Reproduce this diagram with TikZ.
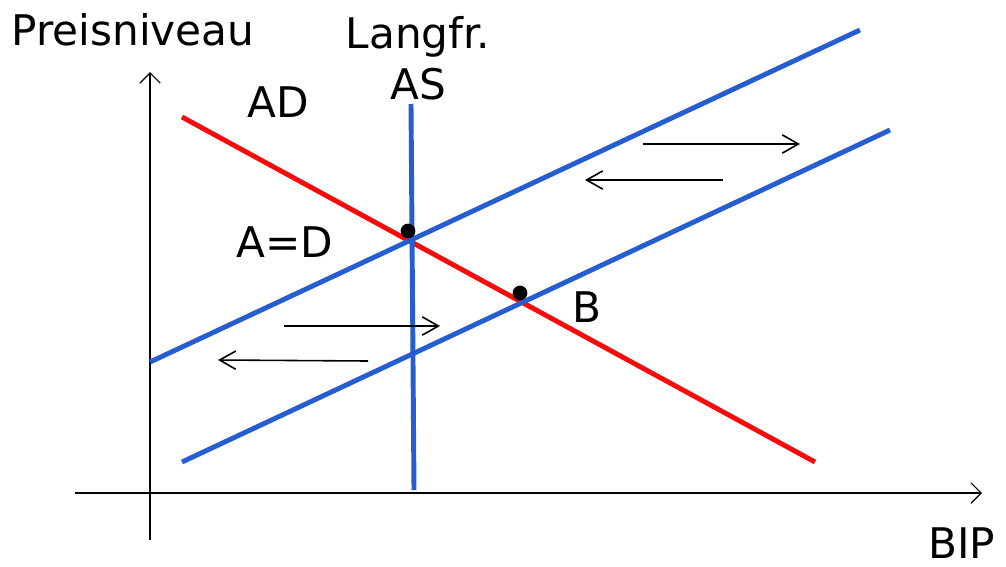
\documentclass[tikz,border=0pt]{standalone}
\usepackage{fontspec}
\setmainfont{DejaVu Sans}
\usetikzlibrary{arrows.meta}
\definecolor{asblue}{RGB}{38,94,210}
\definecolor{adred}{RGB}{250,10,10}
\tikzset{
  axis/.style={line width=0.35pt, draw=black},
  axisarrow/.style={axis, -{Straight Barb[length=2.9pt,width=5.8pt,line width=0.35pt]}},
  asline/.style={draw=asblue, line width=1.4pt},
  adline/.style={draw=adred, line width=1.4pt},
  shiftarrow/.style={line width=0.45pt, draw=black, -{Straight Barb[length=4.6pt,width=5.2pt,line width=0.45pt]}},
  lbl/.style={font=\fontsize{12}{14.4}\selectfont, inner sep=0pt},
  eqdot/.style={circle, fill=black, inner sep=0pt, minimum size=4.2pt}
}
\begin{document}
\begin{tikzpicture}[x=0.01cm,y=-0.01cm]
\useasboundingbox (0,0) rectangle (1006,566);
% axes
\coordinate (yb) at (150,540);
\coordinate (yt) at (150,72);
\coordinate (xl) at (75,493);
\coordinate (xr) at (982,493);
\draw[axisarrow] (yb) -- (yt);
\draw[axisarrow] (xl) -- (xr);
% curves
\coordinate (ad1) at (182,117);
\coordinate (ad2) at (815,462);
\coordinate (las1) at (411,104);
\coordinate (las2) at (414,490);
\coordinate (asa1) at (150,362);
\coordinate (asa2) at (860,30);
\coordinate (asb1) at (182,462);
\coordinate (asb2) at (890,130);
\draw[adline] (ad1) -- (ad2);
\draw[asline] (asa1) -- (asa2);
\draw[asline] (asb1) -- (asb2);
\draw[asline] (las1) -- (las2);
% equilibrium points
\node[eqdot] (dA) at (408,231) {};
\node[eqdot] (dB) at (520,293) {};
% shift arrows
\coordinate (r1s) at (643,144); \coordinate (r1e) at (800,144);
\coordinate (l1s) at (723,180); \coordinate (l1e) at (585,180);
\coordinate (r2s) at (284,326); \coordinate (r2e) at (440,326);
\coordinate (l2s) at (368,361); \coordinate (l2e) at (218,360);
\draw[shiftarrow] (r1s) -- (r1e);
\draw[shiftarrow] (l1s) -- (l1e);
\draw[shiftarrow] (r2s) -- (r2e);
\draw[shiftarrow] (l2s) -- (l2e);
% labels
\node[lbl] (tP) at (133,30) {Preisniveau};
\node[lbl, align=center] (tLAS) at (418,58) {Langfr.\\AS};
\node[lbl] (tAD) at (278,102) {AD};
\node[lbl] (tAD2) at (285,242) {A=D};
\node[lbl] (tB) at (587,307) {B};
\node[lbl] (tBIP) at (962,543) {BIP};
\end{tikzpicture}
\end{document}
